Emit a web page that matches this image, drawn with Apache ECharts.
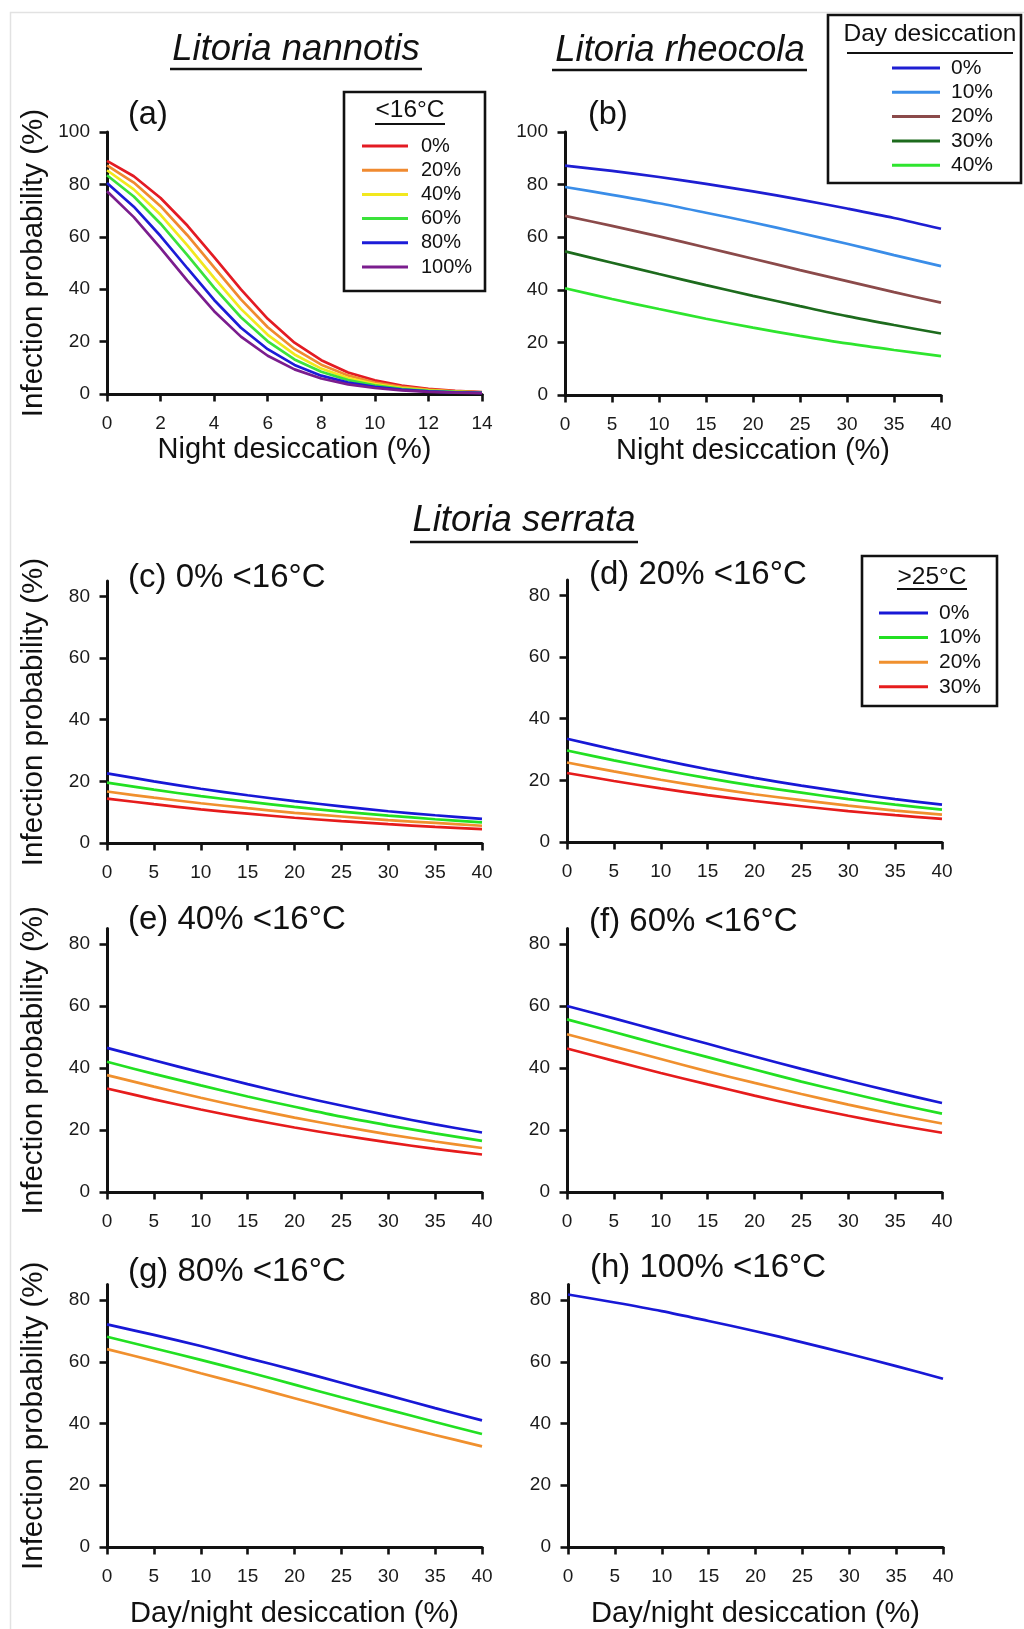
<!DOCTYPE html>
<html><head><meta charset="utf-8">
<script src="https://cdn.jsdelivr.net/npm/echarts@6/dist/echarts.min.js"></script>
<style>html,body{margin:0;padding:0;background:#fff}#c{width:1024px;height:1629px}</style>
</head><body><div id="c"></div>
<script>
// ================= DATA =================
// (a) Litoria nannotis: x = night desiccation (%), one series per % time <16°C
const xNight = [0,1,2,3,4,5,6,7,8,9,10,11,12,13,14];
const nanLevels = ['0%','20%','40%','60%','80%','100%'];
const nan0   = [89.0,83.1,74.8,64.3,52.2,39.9,28.7,19.6,12.9,8.2,5.2,3.2,2.0,1.2,0.7];
const nan20  = [87.3,80.7,71.7,60.6,48.3,36.1,25.5,17.2,11.2,7.1,4.4,2.7,1.7,1.0,0.6];
const nan40  = [85.4,78.1,68.4,56.7,44.3,32.5,22.6,15.1,9.7,6.1,3.8,2.3,1.4,0.9,0.5];
const nan60  = [83.5,75.4,65.0,53.0,40.6,29.3,20.1,13.2,8.5,5.3,3.3,2.0,1.2,0.8,0.5];
const nan80  = [80.5,71.5,60.3,48.0,35.9,25.3,17.1,11.1,7.0,4.4,2.7,1.7,1.0,0.6,0.4];
const nan100 = [77.4,67.5,55.7,43.3,31.6,21.9,14.6,9.4,5.9,3.7,2.3,1.4,0.8,0.5,0.3];

// (b) Litoria rheocola: x = night desiccation (%), one series per day desiccation
const xDes = [0,5,10,15,20,25,30,35,40];
const rheoLevels = ['0%','10%','20%','30%','40%'];
const rheo0  = [87.2,85.2,82.9,80.3,77.4,74.3,70.9,67.3,63.2];
const rheo10 = [79.1,76.1,72.9,69.3,65.6,61.6,57.5,53.2,49.0];
const rheo20 = [68.1,64.3,60.3,56.1,51.8,47.5,43.3,39.1,35.1];
const rheo30 = [54.6,50.3,46.0,41.8,37.7,33.8,30.0,26.6,23.4];
const rheo40 = [40.6,36.5,32.7,29.0,25.6,22.5,19.6,17.1,14.8];

// (c)-(h) Litoria serrata: x = day/night desiccation (%), one series per % time >25°C
const serLevels = ['0%','10%','20%','30%'];
const serC0 = [22.6,20.0,17.6,15.5,13.6,11.9,10.3,9.0,7.8];
const serC10= [19.6,17.3,15.2,13.4,11.7,10.2,8.9,7.7,6.7];
const serC20= [16.7,14.7,12.9,11.3,9.8,8.6,7.4,6.5,5.6];
const serC30= [14.4,12.6,10.9,9.5,8.2,7.1,6.1,5.2,4.5];
const serD0 = [33.5,30.0,26.7,23.6,20.8,18.3,16.0,13.9,12.1];
const serD10= [29.7,26.5,23.5,20.7,18.2,16.0,13.9,12.1,10.5];
const serD20= [25.8,22.9,20.2,17.7,15.5,13.6,11.8,10.2,8.9];
const serD30= [22.4,19.8,17.4,15.2,13.3,11.6,10.0,8.7,7.5];
const serE0 = [46.5,42.5,38.6,34.8,31.2,27.9,24.7,21.8,19.2];
const serE10= [42.0,38.1,34.4,30.8,27.5,24.3,21.5,18.9,16.5];
const serE20= [37.7,34.0,30.4,27.1,24.0,21.2,18.6,16.3,14.2];
const serE30= [33.4,29.9,26.6,23.6,20.8,18.3,16.0,13.9,12.1];
const serF0 = [60.0,56.0,51.9,47.8,43.7,39.7,35.9,32.2,28.7];
const serF10= [55.7,51.6,47.5,43.5,39.5,35.6,32.0,28.5,25.3];
const serF20= [50.9,46.9,42.9,38.9,35.2,31.6,28.2,25.0,22.1];
const serF30= [46.3,42.3,38.4,34.7,31.1,27.7,24.6,21.7,19.1];
const serG0 = [72.1,68.7,65.1,61.2,57.3,53.2,49.1,45.0,41.0];
const serG10= [68.1,64.4,60.6,56.7,52.6,48.5,44.5,40.5,36.6];
const serG20= [64.1,60.3,56.3,52.3,48.2,44.1,40.1,36.3,32.6];
const serH0 = [81.8,79.2,76.4,73.2,69.9,66.3,62.5,58.6,54.5];

// tick values
const yTicks100 = [0,20,40,60,80,100];
const yTicks80  = [0,20,40,60,80];
const xTicks14  = [0,2,4,6,8,10,12,14];
const xTicks40  = [0,5,10,15,20,25,30,35,40];

// text
const titleNan = 'Litoria nannotis', titleRheo = 'Litoria rheocola', titleSer = 'Litoria serrata';
const panelLabels = ['(a)','(b)','(c) 0% <16°C','(d) 20% <16°C','(e) 40% <16°C','(f) 60% <16°C','(g) 80% <16°C','(h) 100% <16°C'];
const yName = 'Infection probability (%)';
const xNameNight = 'Night desiccation (%)';
const xNameDayNight = 'Day/night desiccation (%)';
const legTitleA = '<16°C', legTitleB = 'Day desiccation', legTitleD = '>25°C';

// ================= STYLE / LAYOUT =================
const FONT = "'Liberation Sans', Arial, Helvetica, sans-serif";
const colNan  = ['#e31b23','#f08a30','#f2e81e','#3be23b','#1c1cd8','#7b1d8e'];
const colRheo = ['#1e1ed2','#3a8de8','#8b4a4a','#1d6b1d','#2ee52e'];
const colSer  = ['#1818d6','#22e022','#f0902e','#e61c1c'];

const grids = [
  {left:107, top:132,    width:375, height:262},
  {left:565, top:132,    width:376, height:263},
  {left:107, top:581,    width:375, height:262},
  {left:567, top:580,    width:375, height:262},
  {left:107, top:928.5,  width:375, height:263.5},
  {left:567, top:928.5,  width:375, height:263.5},
  {left:107, top:1284.6, width:375, height:262.4},
  {left:568, top:1284.6, width:375, height:262.4}
];

const axisLineStyle = {color:'#111', width:3};
function xAxisFor(i, max, interval, ticks, name, gap) {
  return {
    type:'value', gridIndex:i, min:0, max:max, interval:interval,
    axisLine:{show:true, onZero:false, lineStyle:axisLineStyle},
    axisTick:{show:true, length:7.5, lineStyle:{color:'#111', width:2.6}, customValues:ticks},
    axisLabel:{fontSize:19, color:'#1a1a1a', fontFamily:FONT, margin:20, customValues:ticks},
    splitLine:{show:false},
    name:name||'', nameLocation:'middle', nameGap:gap||40,
    nameTextStyle:{fontSize:29, color:'#111', fontFamily:FONT}
  };
}
function yAxisFor(i, max, ticks, name) {
  return {
    type:'value', gridIndex:i, min:0, max:max, interval:20,
    axisLine:{show:true, onZero:false, lineStyle:axisLineStyle},
    axisTick:{show:true, length:7.5, lineStyle:{color:'#111', width:2.6}, customValues:ticks},
    axisLabel:{fontSize:19, color:'#1a1a1a', fontFamily:FONT, margin:17, customValues:ticks},
    splitLine:{show:false},
    name:name||'', nameLocation:'middle', nameGap:58, nameRotate:90,
    nameTextStyle:{fontSize:29.5, color:'#111', fontFamily:FONT}
  };
}

const xAxes = [
  xAxisFor(0,14,2,xTicks14,xNameNight,41),
  xAxisFor(1,40,5,xTicks40,xNameNight,41),
  xAxisFor(2,40,5,xTicks40),
  xAxisFor(3,40,5,xTicks40),
  xAxisFor(4,40,5,xTicks40),
  xAxisFor(5,40,5,xTicks40),
  xAxisFor(6,40,5,xTicks40,xNameDayNight,52),
  xAxisFor(7,40,5,xTicks40,xNameDayNight,52)
];
const yAxes = [
  yAxisFor(0,100,yTicks100,yName),
  yAxisFor(1,100,yTicks100),
  yAxisFor(2,85,yTicks80,yName),
  yAxisFor(3,85,yTicks80),
  yAxisFor(4,85,yTicks80,yName),
  yAxisFor(5,85,yTicks80),
  yAxisFor(6,85,yTicks80,yName),
  yAxisFor(7,85,yTicks80)
];

const series = [];
function addSeries(panel, key, xs, ys, color, smooth) {
  series.push({
    type:'line', name: panel + '|' + key, xAxisIndex: panel, yAxisIndex: panel,
    data: xs.map((x,i)=>[x, ys[i]]), symbol:'none', showSymbol:false, smooth: smooth ? 0.3 : false,
    lineStyle:{color:color, width:2.7}, itemStyle:{color:color}, silent:true, animation:false
  });
}
[nan0,nan20,nan40,nan60,nan80,nan100].forEach((d,k)=>addSeries(0, nanLevels[k], xNight, d, colNan[k], false));
[rheo0,rheo10,rheo20,rheo30,rheo40].forEach((d,k)=>addSeries(1, rheoLevels[k], xDes, d, colRheo[k], true));
const serPanels = [
  [serC0,serC10,serC20,serC30],
  [serD0,serD10,serD20,serD30],
  [serE0,serE10,serE20,serE30],
  [serF0,serF10,serF20,serF30],
  [serG0,serG10,serG20],
  [serH0]
];
serPanels.forEach((arrs,p)=>arrs.forEach((d,k)=>addSeries(p+2, serLevels[k], xDes, d, colSer[k], true)));

function legendFor(panel, levels, left, top, itemWidth, itemGap, fontSize, padLeft) {
  return {
    orient:'vertical', left:left, top:top, padding:0, itemWidth:itemWidth, itemHeight:3,
    itemGap:itemGap, icon:'rect', selectedMode:false,
    data: levels.map(l => panel + '|' + l),
    formatter: n => n.split('|')[1],
    textStyle:{fontSize:fontSize, lineHeight:fontSize, color:'#111', fontFamily:FONT, padding:[0,0,0,padLeft]}
  };
}
const legends = [
  legendFor(0, nanLevels, 362, 136, 46, 4.2, 20, 8),
  legendFor(1, rheoLevels, 892, 57.5, 48, 3.3, 21, 6),
  legendFor(3, serLevels, 879, 602.5, 49, 3.6, 21, 6)
];

function txt(text, x, y, size, opts) {
  opts = opts || {};
  return {type:'text', x:x, y:y, silent:true, z:100, style:{
    text:text, fill:'#111', font:(opts.italic?'italic ':'') + size + 'px ' + FONT,
    align:opts.align||'left', textAlign:opts.align||'left',
    verticalAlign:'middle', textVerticalAlign:'middle'
  }};
}
function hline(x1, x2, y, w) {
  return {type:'line', silent:true, z:100, shape:{x1:x1,y1:y,x2:x2,y2:y}, style:{stroke:'#111', lineWidth:w||2.4}};
}
function box(x, y, w, h) {
  return {type:'rect', silent:true, z:90, shape:{x:x,y:y,width:w,height:h}, style:{fill:null, stroke:'#111', lineWidth:2.6}};
}

const graphics = [
  {type:'rect', silent:true, z:0, shape:{x:10.5,y:12.5,width:1030,height:1640}, style:{fill:null, stroke:'#e2e2e2', lineWidth:1.5}},
  // species titles
  txt(titleNan, 296, 50, 36.5, {italic:true, align:'center'}), hline(170, 422, 69, 2.6),
  txt(titleRheo, 680, 51, 36.5, {italic:true, align:'center'}), hline(552, 807, 70, 2.6),
  txt(titleSer, 524, 521, 36.5, {italic:true, align:'center'}), hline(410, 638, 542, 2.6),
  // panel labels
  txt(panelLabels[0], 128, 115, 32.5),
  txt(panelLabels[1], 588, 115, 32.5),
  txt(panelLabels[2], 128, 578, 33),
  txt(panelLabels[3], 589, 575, 33),
  txt(panelLabels[4], 128, 920, 33),
  txt(panelLabels[5], 589, 922, 33),
  txt(panelLabels[6], 128, 1272, 33),
  txt(panelLabels[7], 590, 1268, 33),
  // legend boxes and titles
  box(344, 92, 141, 199), txt(legTitleA, 410, 110, 24.5, {align:'center'}), hline(375, 445, 124, 2),
  box(828, 15, 193, 168), txt(legTitleB, 930, 34, 24.5, {align:'center'}), hline(847, 1013, 53, 2),
  box(862, 556, 135, 150), txt(legTitleD, 932, 577, 24.5, {align:'center'}), hline(897, 967, 589, 2)
];

const chart = echarts.init(document.getElementById('c'), null, {renderer:'canvas', width:1024, height:1629});
chart.setOption({
  animation:false,
  backgroundColor:'#fff',
  textStyle:{fontFamily:FONT},
  grid: grids.map(g => Object.assign({containLabel:false}, g)),
  xAxis: xAxes,
  yAxis: yAxes,
  legend: legends,
  series: series,
  graphic: graphics
});
</script>
</body></html>
